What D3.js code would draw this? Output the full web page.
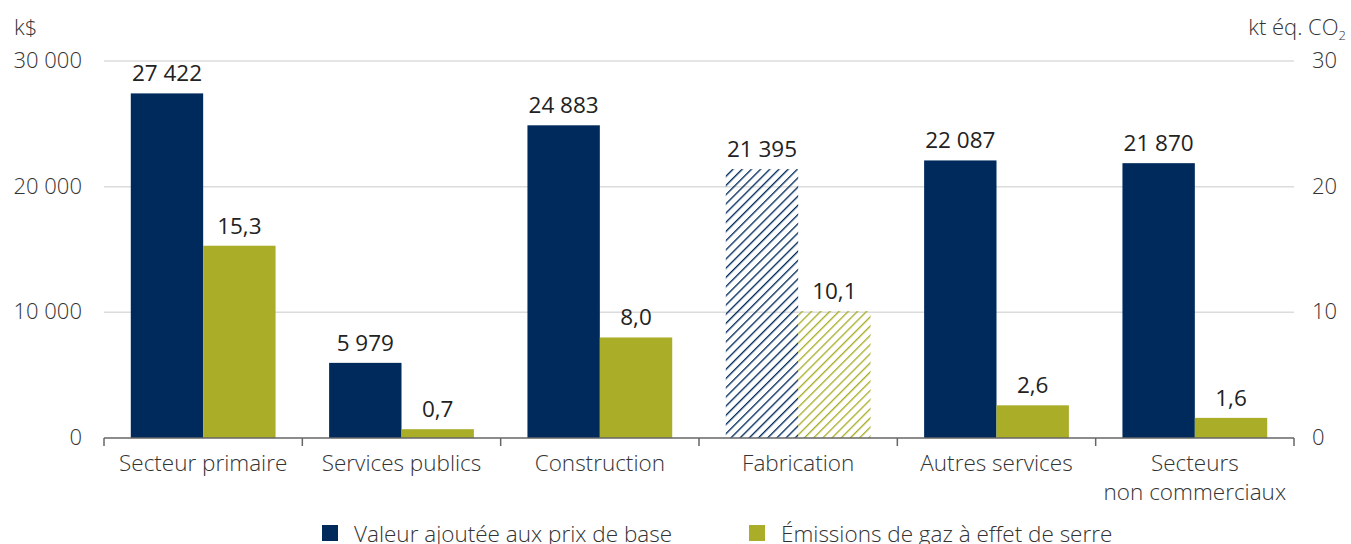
<!doctype html>
<html>
  <head>
    <meta charset='UTF-8'>
    <script src="https://d3js.org/d3.v7.min.js"></script>
    <style>
      body { margin: 0; background: #fff; }
      text { font-family: "Open Sans", sans-serif; font-weight: 300; fill: #333; }
    </style>
  </head>
  <body>
    <svg id='render'></svg>
    <script>
      const categories = [["Secteur primaire"], ["Services publics"], ["Construction"], ["Fabrication"], ["Autres services"], ["Secteurs", "non commerciaux"]];
      const valeurAjoutee = [27422, 5979, 24883, 21395, 22087, 21870];
      const emissions = [15.3, 0.7, 8.0, 10.1, 2.6, 1.6];
      const hatched = [false, false, false, true, false, false];
      const leftTicks = [0, 10000, 20000, 30000];
      const rightTicks = [0, 10, 20, 30];
      const seriesNames = ["Valeur ajoutée aux prix de base", "Émissions de gaz à effet de serre"];
      const colors = ["#002a5c", "#a9ad27"];

      const W = 1351, H = 544;
      const svg = d3.select("#render").attr("width", W).attr("height", H);
      const plotLeft = 104, plotRight = 1294, plotTop = 61, plotBottom = 438;

      const x0 = d3.scaleBand().domain(d3.range(categories.length)).range([plotLeft, plotRight]);
      const x1 = d3.scaleBand().domain([0, 1]).range([0, x0.bandwidth()]).paddingOuter(0.37);
      const yL = d3.scaleLinear().domain([0, 30000]).range([plotBottom, plotTop]);
      const yR = d3.scaleLinear().domain([0, 30]).range([plotBottom, plotTop]);

      const frNum = v => d3.format(",")(v).replace(/,/g, "\u00a0");
      const frDec = v => d3.format(".1f")(v).replace(".", ",");

      // hatch patterns
      const defs = svg.append("defs");
      colors.forEach((c, i) => {
        const p = defs.append("pattern").attr("id", "hatch" + i)
          .attr("patternUnits", "userSpaceOnUse").attr("width", 6.5).attr("height", 6.5)
          .attr("patternTransform", "rotate(45)");
        p.append("line").attr("x1", 0).attr("y1", 0).attr("x2", 0).attr("y2", 6.5)
          .attr("stroke", c).attr("stroke-width", 2.7);
      });

      // grid
      svg.append("g").selectAll("line").data(leftTicks.slice(1)).enter().append("line")
        .attr("x1", plotLeft).attr("x2", plotRight)
        .attr("y1", d => yL(d)).attr("y2", d => yL(d))
        .attr("stroke", "#dcdcdc").attr("stroke-width", 1.5);

      // left axis labels
      svg.append("g").selectAll("text").data(leftTicks).enter().append("text")
        .attr("x", 82).attr("y", d => yL(d) + 7).attr("text-anchor", "end")
        .style("font-size", "22px").text(frNum);
      svg.append("text").attr("x", 14).attr("y", 35).style("font-size", "22px").text("k$");

      // right axis labels
      svg.append("g").selectAll("text").data(rightTicks).enter().append("text")
        .attr("x", 1312).attr("y", d => yR(d) + 7).attr("text-anchor", "start")
        .style("font-size", "22px").text(d => d);
      const rt = svg.append("text").attr("x", 1346).attr("y", 35).attr("text-anchor", "end").style("font-size", "22px");
      rt.append("tspan").text("kt éq. CO");
      rt.append("tspan").attr("dy", 5).style("font-size", "13px").text("2");

      // bars
      const groups = svg.append("g").selectAll("g").data(categories).enter().append("g")
        .attr("transform", (d, i) => `translate(${x0(i)},0)`);
      groups.each(function(d, i) {
        const g = d3.select(this);
        const vals = [yL(valeurAjoutee[i]), yR(emissions[i])];
        const labels = [frNum(valeurAjoutee[i]), frDec(emissions[i])];
        [0, 1].forEach(s => {
          g.append("rect").attr("x", x1(s)).attr("y", vals[s])
            .attr("width", x1.bandwidth()).attr("height", plotBottom - vals[s])
            .attr("fill", hatched[i] ? `url(#hatch${s})` : colors[s]);
          g.append("text").attr("x", x1(s) + x1.bandwidth() / 2).attr("y", vals[s] - 12)
            .attr("text-anchor", "middle").style("font-size", "22.5px").style("font-weight", 400).style("fill", "#222")
            .text(labels[s]);
        });
      });

      // x axis
      svg.append("line").attr("x1", plotLeft).attr("x2", plotRight).attr("y1", plotBottom).attr("y2", plotBottom)
        .attr("stroke", "#666").attr("stroke-width", 1.5);
      svg.append("g").selectAll("line").data(d3.range(categories.length + 1)).enter().append("line")
        .attr("x1", d => plotLeft + d * x0.step()).attr("x2", d => plotLeft + d * x0.step())
        .attr("y1", plotBottom).attr("y2", plotBottom + 8)
        .attr("stroke", "#666").attr("stroke-width", 1.5);

      const catText = svg.append("g").selectAll("text").data(categories).enter().append("text")
        .attr("x", (d, i) => x0(i) + x0.bandwidth() / 2).attr("y", 471)
        .attr("text-anchor", "middle").style("font-size", "22.5px");
      catText.each(function(d) {
        const t = d3.select(this);
        d.forEach((line, j) => t.append("tspan").attr("x", t.attr("x")).attr("dy", j ? 29 : 0).text(line));
      });

      // legend
      const legX = [322, 749];
      seriesNames.forEach((n, i) => {
        svg.append("rect").attr("x", legX[i]).attr("y", 525).attr("width", 16).attr("height", 16).attr("fill", colors[i]);
        svg.append("text").attr("x", legX[i] + 32).attr("y", 542).style("font-size", "22.5px").text(n);
      });
    </script>
  </body>
</html>
